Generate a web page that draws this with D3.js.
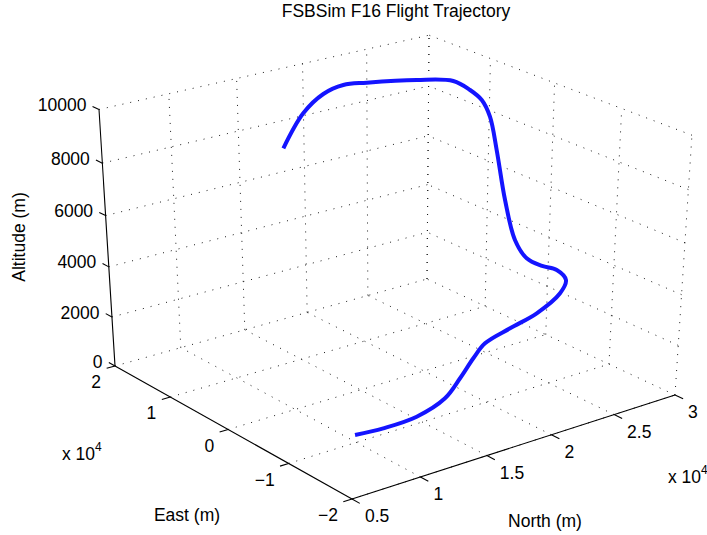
<!DOCTYPE html>
<html>
<head>
<meta charset="utf-8">
<title>FSBSim F16 Flight Trajectory</title>
<script src="https://cdn.jsdelivr.net/npm/d3@7"></script>
<style>
  body { margin: 0; background: #fff; }
  svg text { font-family: "Liberation Sans", Arial, Helvetica, sans-serif; fill: #000; }
</style>
</head>
<body>
<svg id="chart" width="707" height="535"></svg>
<script>
// Axis ticks (metres) and the labels MATLAB-style scaled axes show
const northTicks = [5000, 10000, 15000, 20000, 25000, 30000];
const northTickLabels = ["0.5", "1", "1.5", "2", "2.5", "3"];
const eastTicks = [-20000, -10000, 0, 10000, 20000];
const eastTickLabels = ["\u22122", "\u22121", "0", "1", "2"];
const altTicks = [0, 2000, 4000, 6000, 8000, 10000];
const altTickLabels = ["0", "2000", "4000", "6000", "8000", "10000"];

// Simulated F16 trajectory samples (metres)
const north = [9260, 11190, 13600, 15480, 16400, 17220, 17970, 19880, 21890, 24430,
               25870, 26520, 26240, 26050, 25940, 26190, 26750, 26950, 26810, 26490,
               26290, 24450, 21660, 20230, 18660, 16520, 13450];
const east = [-11380, -11760, -11990, -12540, -12970, -13320, -13570, -13580, -13680, -12300,
              -10450, -7810, -6080, -4050, -2370, -190, 2380, 3930, 4990, 6220,
              8490, 10600, 12900, 13700, 13610, 12280, 8810];
const altitude = [600, 600, 700, 1200, 1900, 2600, 3100, 3400, 3700, 3950,
                  4050, 4050, 4050, 4150, 4700, 6000, 7600, 8700, 9250, 9550,
                  9700, 9750, 9750, 9750, 9600, 9250, 8650];

// Data -> unit cube
const sx = d3.scaleLinear().domain([5000, 30000]).range([0, 1]);   // North
const sy = d3.scaleLinear().domain([-20000, 20000]).range([0, 1]); // East
const sz = d3.scaleLinear().domain([0, 10000]).range([0, 1]);      // Altitude

// Perspective camera: homogeneous 3x4 matrix mapping the unit cube to the screen
const camera = [
  [373.83, -226.06, -23.5, 352],
  [-74.26, -98.19, -287.5, 499],
  [0.0753, 0.0951, -0.0603, 1]
];
function project(u, v, w) {
  const p = camera.map(r => r[0] * u + r[1] * v + r[2] * w + r[3]);
  return [p[0] / p[2], p[1] / p[2]];
}
const toScreen = (n, e, a) => project(sx(n), sy(e), sz(a));

const svg = d3.select("#chart");
const gGrid = svg.append("g").attr("class", "grid");
const gAxes = svg.append("g").attr("class", "axes");

function seg(g, a, b, cls) {
  g.append("line")
    .attr("class", cls)
    .attr("x1", a[0]).attr("y1", a[1])
    .attr("x2", b[0]).attr("y2", b[1]);
}

const [n0, n1] = sx.domain(), [e0, e1] = sy.domain(), [a0, a1] = sz.domain();

// Floor grid (altitude = 0)
northTicks.slice(1).forEach(n => seg(gGrid, toScreen(n, e0, a0), toScreen(n, e1, a0), "g"));
eastTicks.forEach(e => seg(gGrid, toScreen(n0, e, a0), toScreen(n1, e, a0), "g"));
// Back wall at maximum East
northTicks.slice(1).forEach(n => seg(gGrid, toScreen(n, e1, a0), toScreen(n, e1, a1), "g"));
altTicks.slice(1).forEach(a => seg(gGrid, toScreen(n0, e1, a), toScreen(n1, e1, a), "g"));
// Back wall at maximum North
eastTicks.forEach(e => seg(gGrid, toScreen(n1, e, a0), toScreen(n1, e, a1), "g"));
altTicks.slice(1).forEach(a => seg(gGrid, toScreen(n1, e0, a), toScreen(n1, e1, a), "g"));

gGrid.selectAll("line")
  .attr("stroke", "#1a1a1a")
  .attr("stroke-width", 1)
  .attr("stroke-dasharray", "1,7");

// Axis lines
seg(gAxes, toScreen(n0, e0, a0), toScreen(n1, e0, a0), "axis"); // North
seg(gAxes, toScreen(n0, e0, a0), toScreen(n0, e1, a0), "axis"); // East
seg(gAxes, toScreen(n0, e1, a0), toScreen(n0, e1, a1), "axis"); // Altitude

// Tick marks
const tN = (sx.invert(0.025) - sx.invert(0));
const tE = (sy.invert(0.03) - sy.invert(0));
northTicks.forEach(n => seg(gAxes, toScreen(n, e0, a0), toScreen(n, e0 - tE, a0), "axis"));
eastTicks.forEach(e => seg(gAxes, toScreen(n0, e, a0), toScreen(n0 - tN, e, a0), "axis"));
altTicks.forEach(a => seg(gAxes, toScreen(n0, e1, a), toScreen(n0, e1 + tE * 0.95, a), "axis"));

gAxes.selectAll("line")
  .attr("stroke", "#000")
  .attr("stroke-width", 1.1);

const fs = 17.5;
// Tick labels
northTicks.forEach((n, i) => {
  const p = toScreen(n, e0, a0);
  svg.append("text").attr("x", p[0] + 13).attr("y", p[1] + 17).attr("dy", "0.35em")
    .attr("font-size", fs).attr("text-anchor", "start").text(northTickLabels[i]);
});
eastTicks.forEach((e, i) => {
  const p = toScreen(n0, e, a0);
  svg.append("text").attr("x", p[0] - 14).attr("y", p[1] + 16).attr("dy", "0.35em")
    .attr("font-size", fs).attr("text-anchor", "end").text(eastTickLabels[i]);
});
altTicks.forEach((a, i) => {
  const p = toScreen(n0, e1, a);
  svg.append("text").attr("x", p[0] - 12.5).attr("y", p[1] - 4.5).attr("dy", "0.35em")
    .attr("font-size", fs).attr("text-anchor", "end").text(altTickLabels[i]);
});

// Exponent markers
function expLabel(x, y) {
  const t = svg.append("text").attr("x", x).attr("y", y).attr("font-size", fs);
  t.append("tspan").text("x 10");
  t.append("tspan").attr("dy", -9).attr("font-size", 12).text("4");
}
expLabel(62, 460);
expLabel(668, 483);

// Axis titles
svg.append("text").attr("x", 187).attr("y", 521).attr("font-size", fs)
  .attr("text-anchor", "middle").text("East (m)");
svg.append("text").attr("x", 545).attr("y", 527).attr("font-size", fs)
  .attr("text-anchor", "middle").text("North (m)");
svg.append("text").attr("transform", "translate(25,237) rotate(-90)").attr("font-size", fs)
  .attr("text-anchor", "middle").text("Altitude (m)");
svg.append("text").attr("x", 396).attr("y", 17).attr("font-size", fs)
  .attr("text-anchor", "middle").text("FSBSim F16 Flight Trajectory");

// Trajectory
const pts = north.map((n, i) => toScreen(n, east[i], altitude[i]));
svg.append("path")
  .datum(pts)
  .attr("fill", "none")
  .attr("stroke", "#1414ff")
  .attr("stroke-width", 4)
  .attr("stroke-linejoin", "round")
  .attr("stroke-linecap", "butt")
  .attr("d", d3.line().curve(d3.curveCatmullRom.alpha(0.5)));
</script>
</body>
</html>
